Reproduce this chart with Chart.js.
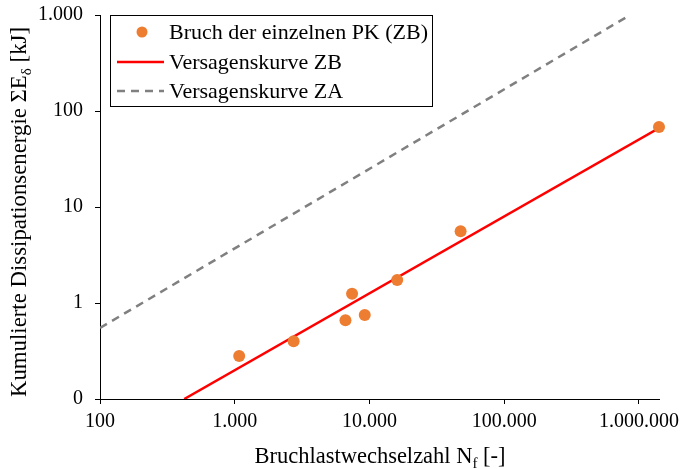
<!DOCTYPE html>
<html>
<head>
<meta charset="utf-8">
<script src="https://cdn.jsdelivr.net/npm/chart.js@4/dist/chart.umd.min.js"></script>
<style>
html,body{margin:0;padding:0;background:#fff;}
#wrap{width:684px;height:469px;}
</style>
</head>
<body>
<div id="wrap"><canvas id="c" width="684" height="469"></canvas></div>
<script>
// Data
const cyclesZB = [1079, 2736, 6637, 7430, 9230, 16070, 47500, 1410000];
const energyZB = [0.28, 0.40, 0.66, 1.25, 0.75, 1.74, 5.6, 68];
const curveZB_x = [422, 1410000];
const curveZB_y = [0.1, 66.5];
const curveZA_x = [100, 860000];
const curveZA_y = [0.55, 1000];
const xTicks = [100, 1000, 10000, 100000, 1000000];
const xTickLabels = ['100', '1.000', '10.000', '100.000', '1.000.000'];
const yTicks = [0.1, 1, 10, 100, 1000];
const yTickLabels = ['0', '1', '10', '100', '1.000'];
const legendLabels = ['Bruch der einzelnen PK (ZB)', 'Versagenskurve ZB', 'Versagenskurve ZA'];

const FONT = '"Liberation Serif", "Times New Roman", serif';
const ORANGE = '#ED7D31', RED = '#FF0000', GREY = '#808080';

function drawRich(ctx, parts, cx, cy, size) {
  let w = 0;
  const sub = Math.round(size * 0.65);
  parts.forEach(p => { ctx.font = (p[1] ? sub : size) + 'px ' + FONT; w += ctx.measureText(p[0]).width; });
  let x = cx - w / 2;
  ctx.textBaseline = 'alphabetic';
  ctx.textAlign = 'left';
  parts.forEach(p => {
    ctx.font = (p[1] ? sub : size) + 'px ' + FONT;
    ctx.fillText(p[0], x, cy + (p[1] ? size * 0.22 : 0));
    x += ctx.measureText(p[0]).width;
  });
}

const deco = {
  id: 'deco',
  afterDraw(chart) {
    const ctx = chart.ctx;
    ctx.save();
    ctx.fillStyle = '#000';
    drawRich(ctx, [['Bruchlastwechselzahl N', false], ['f', true], [' [-]', false]], 380, 463, 22.5);
    ctx.save();
    ctx.translate(26, 212);
    ctx.rotate(-Math.PI / 2);
    drawRich(ctx, [['Kumulierte Dissipationsenergie \u03A3E', false], ['\u03B4', true], [' [kJ]', false]], 0, 0, 22.8);
    ctx.restore();
    // legend
    ctx.fillStyle = '#fff';
    ctx.fillRect(110, 15, 323, 92);
    ctx.strokeStyle = '#000';
    ctx.lineWidth = 1;
    ctx.strokeRect(110.5, 15.5, 322, 91);
    const rows = [32, 62, 91];
    ctx.fillStyle = ORANGE;
    ctx.beginPath(); ctx.arc(142, rows[0], 5.5, 0, Math.PI * 2); ctx.fill();
    ctx.strokeStyle = RED; ctx.lineWidth = 2.5;
    ctx.beginPath(); ctx.moveTo(117, rows[1]); ctx.lineTo(164, rows[1]); ctx.stroke();
    ctx.strokeStyle = GREY; ctx.setLineDash([8, 6]);
    ctx.beginPath(); ctx.moveTo(117, rows[2]); ctx.lineTo(164, rows[2]); ctx.stroke();
    ctx.setLineDash([]);
    ctx.fillStyle = '#000';
    ctx.font = '22px ' + FONT;
    ctx.textAlign = 'left';
    ctx.textBaseline = 'middle';
    legendLabels.forEach((t, i) => ctx.fillText(t, 169, rows[i] + 1));
    ctx.restore();
  }
};

const tickFont = { family: FONT, size: 20 };

new Chart(document.getElementById('c'), {
  type: 'scatter',
  data: {
    datasets: [
      {
        label: legendLabels[0],
        data: cyclesZB.map((x, i) => ({ x, y: energyZB[i] })),
        backgroundColor: ORANGE,
        borderColor: ORANGE,
        pointRadius: 6,
        borderWidth: 0,
        clip: false
      },
      {
        label: legendLabels[1],
        type: 'line',
        data: curveZB_x.map((x, i) => ({ x, y: curveZB_y[i] })),
        borderColor: RED,
        borderWidth: 2.5,
        pointRadius: 0,
        fill: false,
        clip: 0
      },
      {
        label: legendLabels[2],
        type: 'line',
        data: curveZA_x.map((x, i) => ({ x, y: curveZA_y[i] })),
        borderColor: GREY,
        borderWidth: 2.5,
        borderDash: [8, 6],
        pointRadius: 0,
        fill: false,
        clip: 0
      }
    ]
  },
  options: {
    responsive: false,
    animation: false,
    devicePixelRatio: 1,
    layout: { padding: { top: 15, right: 25, left: 0, bottom: 0 } },
    plugins: { legend: { display: false }, tooltip: { enabled: false }, title: { display: false } },
    scales: {
      x: {
        type: 'logarithmic',
        min: 100,
        max: 1410000,
        afterBuildTicks: s => { s.ticks = xTicks.map(v => ({ value: v })); },
        afterFit: s => { s.height = 70; s.paddingLeft = 0; s.paddingRight = 0; },
        ticks: {
          autoSkip: false, maxRotation: 0, minRotation: 0, color: '#000', font: tickFont, padding: 6,
          callback: (v, i) => xTickLabels[i]
        },
        grid: { drawOnChartArea: false, drawTicks: true, tickLength: 5, color: '#000', tickColor: '#000' },
        border: { color: '#000', width: 1 }
      },
      y: {
        type: 'logarithmic',
        min: 0.1,
        max: 1000,
        afterBuildTicks: s => { s.ticks = yTicks.map(v => ({ value: v })); },
        afterFit: s => { s.width = 100; s.paddingTop = 0; s.paddingBottom = 0; },
        ticks: {
          autoSkip: false, color: '#000', font: tickFont, padding: 12,
          callback: (v, i) => yTickLabels[i]
        },
        grid: { drawOnChartArea: false, drawTicks: true, tickLength: 5, color: '#000', tickColor: '#000' },
        border: { color: '#000', width: 1 }
      }
    }
  },
  plugins: [deco]
});
</script>
</body>
</html>
